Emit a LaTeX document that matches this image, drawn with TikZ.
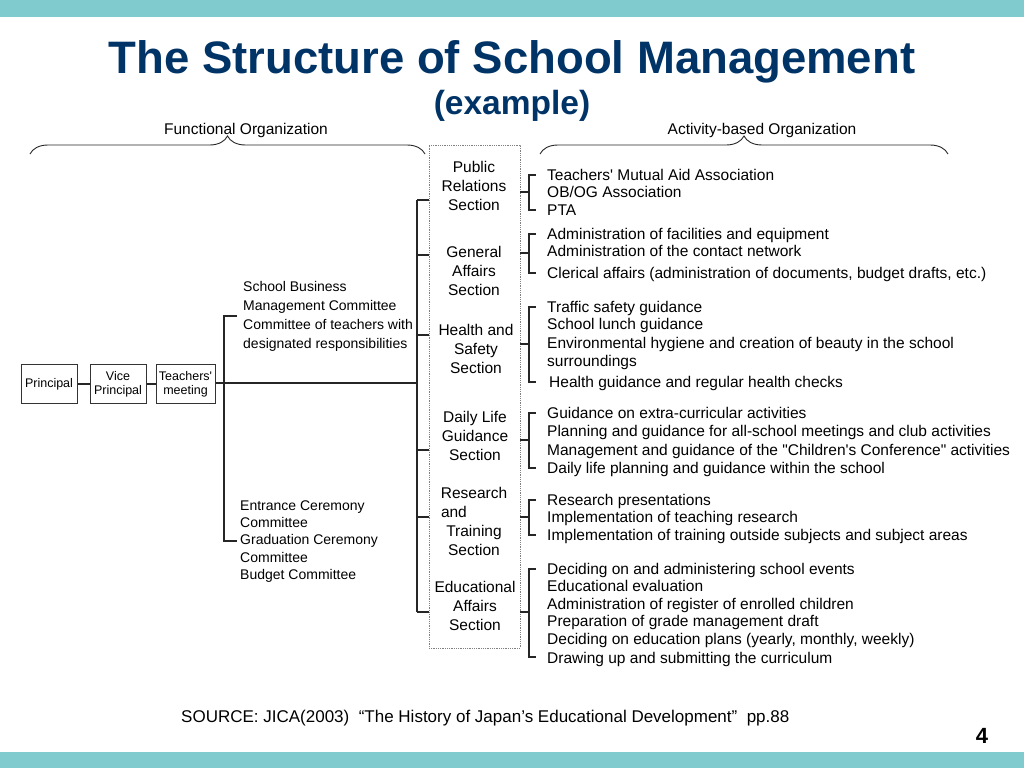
\documentclass[tikz,border=0pt]{standalone}
\usepackage{fontspec}
\setmainfont{Liberation Sans}
\usepackage{xcolor}
\usepackage{tikz}
\usetikzlibrary{positioning,decorations.pathreplacing}
\definecolor{schoolteal}{HTML}{80CBCD}
\definecolor{schoolnavy}{HTML}{003366}
\newcommand{\schoolfont}[2]{\fontsize{#1}{#2}\selectfont}
\newcommand{\sq}{\textquotesingle}
\tikzset{
  schoolpicture/.style={x=1pt, y=-1pt, node distance=12pt},
  schoolbox/.style={draw=black!80, line width=1pt, align=center, font=\schoolfont{12.5}{14}, inner sep=0pt, minimum width=56pt, minimum height=39pt},
  schoolsec/.style={align=center, font=\schoolfont{15.5}{19}, inner sep=0pt},
  schoollist/.style={align=left, anchor=north west, font=\schoolfont{15.5}{17.5}, inner sep=0pt},
  schoolcomm/.style={align=left, anchor=north west, font=\schoolfont{14}{19}, inner sep=0pt},
  schoolhead/.style={font=\schoolfont{15.5}{18}, anchor=base, inner sep=0pt},
  schoolline/.style={line width=1.2pt, black!85},
  schoolbrace/.style={line width=0.9pt, black!85, decorate, decoration={brace, amplitude=18pt}}
}

\begin{document}
\begin{tikzpicture}[schoolpicture]
\useasboundingbox (0,0) rectangle (1024,768);
\fill[schoolteal] (0,0) rectangle (1024,17);
\fill[schoolteal] (0,752) rectangle (1024,768);

\node[font=\bfseries\schoolfont{45.5}{50}, text=schoolnavy, anchor=base, inner sep=0pt] (title) at (512,73) {The Structure of School Management};
\node[font=\bfseries\schoolfont{33.5}{36}, text=schoolnavy, anchor=base, inner sep=0pt] (subtitle) at (512,114) {(example)};

\node[schoolhead] (funchead) at (246,134.5) {Functional Organization};
\node[schoolhead] (acthead) at (762,134.5) {Activity-based Organization};
\coordinate (funcl) at (30,154);
\coordinate (funcr) at (425,154);
\coordinate (actl) at (540,154);
\coordinate (actr) at (948,154);
\draw[schoolbrace] (funcl) -- (funcr);
\draw[schoolbrace] (actl) -- (actr);

\node[schoolbox] (principal) at (49,384) {Principal};
\node[schoolbox, right=12pt of principal] (vice) {Vice\\Principal};
\node[schoolbox, right=9pt of vice, minimum width=59pt] (teachers) {Teachers\sq\\meeting};
\draw[schoolline] (principal) -- (vice);
\draw[schoolline] (vice) -- (teachers);

\node[draw=gray, densely dotted, line width=0.8pt, minimum width=91pt, minimum height=503pt, inner sep=0pt] (col) at (474.5,396.5) {};
\node[schoolsec] (pubsec) at (474,186) {Public\\Relations\\Section};
\node[schoolsec] (gensec) at (474,271) {General\\Affairs\\Section};
\node[schoolsec] (healthsec) at (476,349) {Health and\\Safety\\Section};
\node[schoolsec] (dailysec) at (475,436) {Daily Life\\Guidance\\Section};
\node[schoolsec] (researchsec) at (474,521) {Research\\\makebox[66pt][l]{and}\\Training\\Section};
\node[schoolsec] (edusec) at (475,606) {Educational\\Affairs\\Section};

\node[schoolcomm] (upcomm) at (243,281) {School Business\\Management Committee\\Committee of teachers with\\designated responsibilities};
\node[schoolcomm, font=\schoolfont{14}{17.2}] (lowcomm) at (240,500.5) {Entrance Ceremony\\Committee\\Graduation Ceremony\\Committee\\Budget Committee};
\coordinate (ctop) at (237,316);
\coordinate (cbot) at (237,541);
\draw[schoolline] (ctop) -- ++(-13,0) |- (cbot);

\coordinate (hub) at (417,383);
\coordinate (spinetop) at (417,200);
\coordinate (spinebot) at (417,612);
\draw[schoolline] (teachers.east |- hub) -- (hub);
\draw[schoolline] (spinetop) -- (spinebot);
\foreach \y [count=\i] in {200,255,335,450,517,612} {
  \coordinate (tick\i) at (417,\y);
  \draw[schoolline] (tick\i) -- (tick\i -| col.west);
}

\node[schoollist] (pubact) at (547,169) {Teachers\sq\ Mutual Aid Association\\OB/OG Association\\PTA};
\node[schoollist] (genact) at (547,228) {Administration of facilities and equipment\\Administration of the contact network\\[4pt]Clerical affairs (administration of documents, budget drafts, etc.)};
\node[schoollist] (healthact) at (547,301) {Traffic safety guidance\\School lunch guidance\\[1pt]Environmental hygiene and creation of beauty in the school\\[1pt]surroundings\\[3pt]\hspace*{2pt}Health guidance and regular health checks};
\node[schoollist] (dailyact) at (547,407) {Guidance on extra-curricular activities\\[1pt]Planning and guidance for all-school meetings and club activities\\[1pt]Management and guidance of the \textquotedbl Children\sq s Conference\textquotedbl\ activities\\[1pt]Daily life planning and guidance within the school};
\node[schoollist] (researchact) at (547,494) {Research presentations\\Implementation of teaching research\\Implementation of training outside subjects and subject areas};
\node[schoollist] (eduact) at (547,563) {Deciding on and administering school events\\Educational evaluation\\Administration of register of enrolled children\\Preparation of grade management draft\\Deciding on education plans (yearly, monthly, weekly)\\[2pt]Drawing up and submitting the curriculum};
\foreach \k/\ytop/\ymid/\ybot in {1/175/192/210, 2/234/253/273, 3/307/344/382, 4/413/440/468, 5/500/517/535, 6/569/612/657} {
  \coordinate (rt\k) at (536,\ytop);
  \coordinate (rb\k) at (536,\ybot);
  \coordinate (rm\k) at (529,\ymid);
  \draw[schoolline] (rt\k) -- ++(-7,0) |- (rb\k);
  \draw[schoolline] (rm\k -| col.east) -- (rm\k);
}

\node[font=\schoolfont{17}{19}, anchor=base west, inner sep=0pt] (source) at (181,722) {SOURCE: JICA(2003)\ \ “The History of Japan’s Educational Development”\ \ pp.88};
\node[font=\bfseries\schoolfont{22}{24}, anchor=base, inner sep=0pt] (pagenum) at (982,743) {4};
\end{tikzpicture}
\end{document}
